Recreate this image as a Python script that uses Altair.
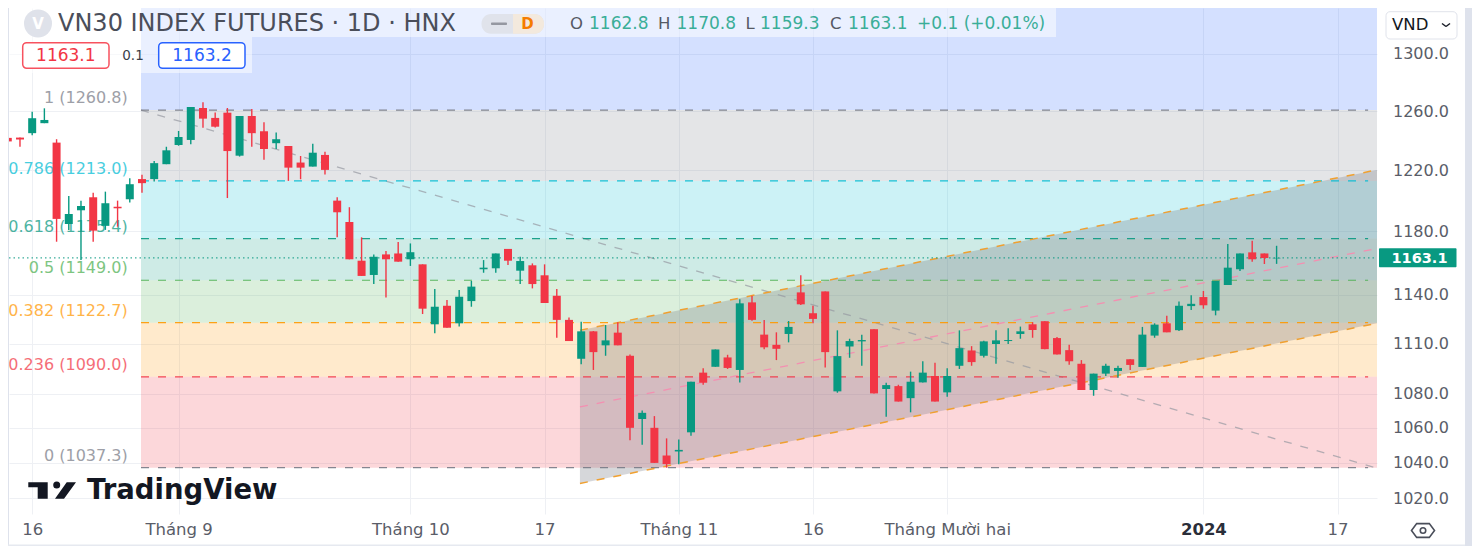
import json
import altair as alt
import pandas as pd

# ---- candle values (bar -1 ... 103) ----
open_ = [1241.8,1242,1245,1251.8,1238.6,1184.8,1193.7,1202.2,1183.6,1196,
 1200.9,1214.2,1214.2,1224.1,1237,1240.4,1262.2,1255.4,1259,1229.8,
 1256.7,1246.3,1238.2,1236.3,1225.2,1222.5,1230.3,1200,1186.1,1161.3,
 1152.3,1165.3,1165.9,1162.2,1159,1121.7,1133.1,1122.3,1136,1155.9,
 1156.5,1168.8,1155,1158.4,1152.1,1139.3,1124.4,1100.8,1117.4,1108.9,
 1116.6,1102.6,1065.2,1060.1,1044.2,1046.5,1057.5,1092.5,1096,1101.6,
 1094.1,1135.2,1115.4,1109.2,1115.8,1141.4,1128.5,1142,1081.4,1108.2,
 1111.3,1118.7,1082.8,1084.5,1077.4,1086.7,1090.5,1080.8,1096.6,1105.8,
 1102.6,1109.7,1111.5,1115.8,1121.7,1123.6,1113.3,1106,1097.8,1082.2,
 1091.9,1093.5,1100.5,1095.9,1114.8,1122.3,1118.1,1132.9,1138.5,1130.1,
 1146,1155.9,1166.6,1165.9,1162.8]
high = [1242.4,1242,1259.6,1262,1240.9,1203.1,1200,1205.2,1205.9,1200,
 1214.8,1217,1226.3,1235.8,1246.5,1262.9,1266.1,1259.2,1262.2,1256.7,
 1261.5,1252.4,1245.4,1236.3,1229.6,1237.9,1232.5,1202.2,1195.7,1176.2,
 1165.3,1167.4,1173.2,1172.3,1159,1143.5,1136.6,1142.9,1148.5,1161.7,
 1165.9,1168.8,1163.8,1159.6,1159,1143.5,1125.8,1123.3,1117.6,1121.3,
 1122.9,1103.4,1070.2,1066.9,1054,1053.4,1087.1,1095.1,1106.4,1103.2,
 1137.2,1139.3,1124.4,1116.8,1123.7,1152.1,1133.1,1142,1118,1112.9,
 1115.3,1118.7,1086.5,1085.3,1093.1,1099.3,1098.4,1095.1,1118,1108.4,
 1111.7,1118,1119.3,1120.3,1123,1123.6,1114,1109.2,1100,1091.9,
 1097.8,1096.6,1100.5,1120.1,1122.3,1127,1135.8,1139.6,1142.3,1148.5,
 1171.9,1165.9,1174,1165.9,1170.8]
low = [1238.4,1235.8,1243.6,1251.8,1173.4,1181,1161.7,1173.4,1181,1183.1,
 1198.7,1205.2,1212.6,1224.1,1236.5,1237.5,1248.6,1248.8,1201.7,1229.2,
 1235.8,1227,1234.3,1213,1214.1,1222.5,1217.2,1176.2,1162.2,1151.7,
 1146.6,1138.3,1160.7,1158,1128,1116.2,1119.6,1120.3,1132.5,1153.7,
 1153.7,1158.6,1146.6,1143.9,1134.8,1113.5,1111.5,1097.5,1094.1,1102.6,
 1108.9,1053,1050.3,1040,1037.3,1039.3,1055.5,1085.3,1096,1094.7,
 1086.7,1123.9,1106.6,1100,1110.7,1133.5,1122.3,1095.5,1080.6,1101.4,
 1096.6,1080.2,1066.5,1075.4,1069.1,1086.7,1075.4,1078.2,1094.7,1096.6,
 1101.6,1097.8,1109.7,1112.9,1113.5,1106.6,1103.4,1097.2,1082.2,1078.8,
 1090.5,1089.5,1094.1,1095.9,1113.5,1116.8,1117.6,1130.5,1131.3,1127.2,
 1146,1154.8,1160.7,1159.2,1159.3]
close = [1239.4,1240.7,1255.2,1254,1188.1,1191.3,1196.5,1180.5,1198.3,1195,
 1210.8,1211.5,1224.8,1233.4,1242.4,1262.9,1254.9,1249.4,1232.9,1256.7,
 1245,1234.3,1240.9,1221.8,1221.8,1231.8,1220.3,1192.4,1162.2,1151.7,
 1163.8,1162.2,1160.7,1166.7,1131.3,1132.5,1119.6,1138.7,1145,1156.9,
 1165.9,1161.3,1161.1,1146.6,1134.8,1124.4,1111.5,1117.4,1104.8,1111.9,
 1108.9,1060.1,1068.8,1040,1039.3,1047.4,1087.1,1086.5,1106.4,1095.3,
 1134.6,1124.4,1107.7,1106.8,1120.1,1134,1125,1104.8,1102.4,1111.5,
 1112.1,1080.2,1085.1,1075.4,1087.1,1092.5,1075.4,1090.5,1107.2,1098.8,
 1111.3,1111.9,1112.1,1117.4,1118.2,1106.6,1103.4,1099.3,1082.2,1091.9,
 1096.6,1095.3,1097.1,1115.4,1121.5,1116.8,1133.1,1134.3,1133.4,1148.5,
 1156.9,1165.9,1162.2,1163,1163.1]
bars = list(range(-1, len(open_) - 1))

# ---- axes ----
y_ticks = [1300, 1260, 1220, 1180, 1140, 1110, 1080, 1060, 1040, 1020]
x_tick_bars = [1, 13, 32, 43, 54, 65, 76, 97, 108]
x_tick_text = ["16", "Tháng 9", "Tháng 10", "17", "Tháng 11", "16", "Tháng Mười hai", "2024", "17"]

# ---- Fibonacci retracement ----
fib_ratio = ["1", "0.786", "0.618", "0.5", "0.382", "0.236", "0"]
fib_price = [1260.8, 1213.0, 1175.4, 1149.0, 1122.7, 1090.0, 1037.3]
fib_color = ["#787B86", "#00BCD4", "#089981", "#4CAF50", "#FF9800", "#F23645", "#787B86"]
fib_start, fib_end, fib_line_end = 9.92, 111.3, 110.5
y_top, y_bottom = 1333.0, 1011.4
x_left, x_right = -0.9, 111.23

# ---- channel and diagonal ----
chan_bars = [45.9, 111.23]
chan_up = [1118.1, 1220.3]
chan_mid = [1072.3, 1169.1]
chan_low = [1028.4, 1122.3]
diag_bars = [9.92, 111.07]
diag_price = [1260.8, 1037.3]
last_price = 1163.1

FONT = "DejaVu Sans"
GREEN, RED = "#089981", "#F23645"
TXT = "#5A5D68"
GRID = "#EEF0F4"

xs = alt.Scale(domain=[x_left, x_right], nice=False, zero=False)
ys = alt.Scale(type="log", domain=[y_bottom, y_top], nice=False, zero=False)
X = lambda f: alt.X(f, type="quantitative", scale=xs, title=None)
Y = lambda f: alt.Y(f, type="quantitative", scale=ys, title=None)

candles = pd.DataFrame({"bar": bars, "o": open_, "h": high, "l": low, "c": close})
candle_color = alt.condition("datum.c >= datum.o", alt.value(GREEN), alt.value(RED))

# bands, first layer, carries the axes
band_col = ["#2962FF", "#787B86", "#00BCD4", "#089981", "#4CAF50", "#FF9800", "#F23645"]
bands_df = pd.DataFrame({"a": fib_start, "b": fib_end, "lo": fib_price, "hi": [y_top] + fib_price[:-1], "col": band_col})
label_map = json.dumps({str(k): v for k, v in zip(x_tick_bars, x_tick_text)}, ensure_ascii=False)
x_axis = alt.Axis(
    values=x_tick_bars, labelExpr=f"{label_map}[datum.value]", orient="bottom", grid=True,
    gridColor=GRID, gridWidth=1, domain=False, ticks=False, labelOverlap=False, labelFlush=False,
    labelBound=False, labelFont=FONT, labelFontSize=16.5, labelPadding=7, title=None,
    labelColor={"condition": {"test": "datum.value == 97", "value": "#2A2E39"}, "value": TXT},
    labelFontWeight={"condition": {"test": "datum.value == 97", "value": "bold"}, "value": "normal"},
)
y_axis = alt.Axis(
    values=y_ticks, orient="right", format=".1f", grid=True, gridColor=GRID, gridWidth=1,
    domain=False, ticks=False, labelFont=FONT, labelFontSize=16, labelColor=TXT, labelPadding=15.5,
    labelOverlap=False, labelFlush=False, labelBound=False, title=None,
)
bands = alt.Chart(bands_df).mark_rect(opacity=0.2, clip=True).encode(
    x=alt.X("a:Q", scale=xs, axis=x_axis, title=None), x2="b:Q",
    y=alt.Y("lo:Q", scale=ys, axis=y_axis, title=None), y2="hi:Q",
    color=alt.Color("col:N", scale=None),
)

DASH = [8, 9]
chan_df = pd.DataFrame({"bar": chan_bars, "up": chan_up, "mid": chan_mid, "low": chan_low})
chan_fill = alt.Chart(chan_df).mark_area(color="#787B86", opacity=0.3, clip=True).encode(
    x=X("bar"), y=Y("up"), y2="low")
chan_up_line = alt.Chart(chan_df).mark_line(color="#F0A030", strokeWidth=1.5, strokeDash=DASH, clip=True).encode(x=X("bar"), y=Y("up"))
chan_low_line = alt.Chart(chan_df).mark_line(color="#F0A030", strokeWidth=1.5, strokeDash=DASH, clip=True).encode(x=X("bar"), y=Y("low"))
chan_mid_line = alt.Chart(chan_df).mark_line(color="#F48FB1", strokeWidth=1.3, strokeDash=DASH, clip=True).encode(x=X("bar"), y=Y("mid"))

diag_df = pd.DataFrame({"bar": diag_bars, "p": diag_price})
diag = alt.Chart(diag_df).mark_line(color="#9598A1", opacity=0.7, strokeWidth=1.3, strokeDash=DASH).encode(x=X("bar"), y=Y("p"))

fib_df = pd.DataFrame({
    "a": fib_start, "b": fib_line_end, "p": fib_price, "col": fib_color,
    "txt": [f"{r} ({p:.1f})" for r, p in zip(fib_ratio, fib_price)],
})
fib_lines = alt.Chart(fib_df).mark_rule(strokeWidth=1.2, strokeDash=DASH, opacity=0.9).encode(
    x=X("a"), x2="b:Q", y=Y("p"), color=alt.Color("col:N", scale=None))
fib_text = alt.Chart(fib_df).mark_text(
    align="right", baseline="middle", dx=-13.3, dy=-12, font=FONT, fontSize=16, opacity=0.72, clip=True
).encode(x=X("a"), y=Y("p"), text="txt:N", color=alt.Color("col:N", scale=None))

dotted = alt.Chart(pd.DataFrame({"p": [last_price], "a": [x_left], "b": [x_right]})).mark_rule(
    color=GREEN, strokeWidth=1.2, strokeDash=[1.5, 3], opacity=0.8
).encode(x=X("a"), x2="b:Q", y=Y("p"))

wicks = alt.Chart(candles).mark_rule(strokeWidth=1.4, clip=True).encode(x=X("bar"), y=Y("h"), y2="l:Q", color=candle_color)
bodies = alt.Chart(candles).mark_rule(strokeWidth=8, clip=True).encode(x=X("bar"), y=Y("o"), y2="c:Q", color=candle_color)

# ---- TradingView interface furniture, placed in picture pixels ----
one = pd.DataFrame({"a": [0]})
OX, OY = 9, 8


def box(x1, y1, x2, y2, **kw):
    return alt.Chart(one).mark_rect(**kw).encode(
        x=alt.value(x1 - OX), x2=alt.value(x2 - OX), y=alt.value(y1 - OY), y2=alt.value(y2 - OY))


def label(x, y, s, size=15, color=TXT, align="left", weight="normal"):
    return alt.Chart(one).mark_text(
        text=s, align=align, baseline="middle", font=FONT, fontSize=size, color=color, fontWeight=weight
    ).encode(x=alt.value(x - OX), y=alt.value(y - OY))


def seg(x1, y1, x2, y2, color="#131722", w=1.4):
    return alt.Chart(one).mark_rule(color=color, strokeWidth=w).encode(
        x=alt.value(x1 - OX), x2=alt.value(x2 - OX), y=alt.value(y1 - OY), y2=alt.value(y2 - OY))


def symbol(x, y, path, size, **kw):
    return alt.Chart(one).mark_point(shape=path, size=size, **kw).encode(x=alt.value(x - OX), y=alt.value(y - OY))


TEAL_TXT = "#3AAE98"
furniture = [
    box(9, 8, 1056, 37, color="white", opacity=0.5),
    box(9, 37, 252, 73, color="white", opacity=0.5),
    symbol(38, 23.5, "circle", 784, filled=True, color="#DFE2EA", opacity=1),
    label(38, 24, "V", 15, "white", "center", "bold"),
    label(58, 23.5, "VN30 INDEX FUTURES · 1D · HNX", 24, "#4A4E5A"),
    box(481.5, 14, 544, 33.7, color="#E0E3EB", cornerRadius=9.5),
    box(513, 14, 544, 33.7, color="#F3E9DD", cornerRadiusTopRight=9.5, cornerRadiusBottomRight=9.5),
    box(491, 22.5, 507, 25, color="#9598A1", cornerRadius=1),
    label(527.5, 24, "D", 15, "#F57C00", "center", "bold"),
    label(570, 24, "O", 16.5, "#555964"),
    label(589, 24, "1162.8", 17, TEAL_TXT),
    label(658, 24, "H", 16.5, "#555964"),
    label(676.5, 24, "1170.8", 17, TEAL_TXT),
    label(745.5, 24, "L", 16.5, "#555964"),
    label(760, 24, "1159.3", 17, TEAL_TXT),
    label(830, 24, "C", 16.5, "#555964"),
    label(848, 24, "1163.1", 17, TEAL_TXT),
    label(917, 24, "+0.1 (+0.01%)", 17, TEAL_TXT),
    box(22.7, 42.7, 109, 68.3, fill="white", stroke="#F7525F", strokeWidth=1.5, cornerRadius=4),
    label(65.8, 55.5, "1163.1", 17, "#F23645", "center"),
    label(133, 55.5, "0.1", 13.5, "#3A3E4A", "center"),
    box(158.7, 42.7, 245, 68.3, fill="white", stroke="#2962FF", strokeWidth=1.5, cornerRadius=4),
    label(202, 55.5, "1163.2", 17, "#2962FF", "center"),
    # TradingView mark
    symbol(52, 490.5,
           "M-0.988,-0.342L-0.179,-0.342L-0.179,0.342L-0.596,0.342L-0.596,-0.133L-0.988,-0.133Z"
           "M0.613,-0.342L1,-0.342L0.5,0.342L0.125,0.342Z", 2304, filled=True, color="#131722", opacity=1),
    symbol(56.7, 485, "circle", 49, filled=True, color="#131722", opacity=1),
    label(87, 491, "TradingView", 27.5, "#131722", "left", "bold"),
    # right scale furniture
    box(1386, 11.7, 1457, 39, fill="white", stroke="#E0E3EB", strokeWidth=1, cornerRadius=4),
    label(1392, 25, "VND", 16.5, "#131722"),
    seg(1442, 23.5, 1446, 26.5),
    seg(1446, 26.5, 1450, 23.5),
    box(1379, 248.3, 1456.5, 267.3, color=GREEN, cornerRadius=1),
    label(1419.5, 258.5, "1163.1", 14.5, "white", "center", "bold"),
    symbol(1423, 530.5, "M-1,0L-0.55,-0.6L0.55,-0.6L1,0L0.55,0.6L-0.55,0.6Z", 529, filled=False, color="#4A4E5A", strokeWidth=1.6, opacity=1),
    symbol(1423, 530.5, "circle", 30, filled=False, color="#4A4E5A", strokeWidth=1.6, opacity=1),
    # page frame
    box(8, 8, 9, 546, color="#DEE2EC"),
    box(1465, 8, 1472, 546, color="#DEE2EC"),
    box(8, 544.5, 1465, 546, color="#E6E9F0"),
]

chart = alt.layer(
    bands, chan_fill, chan_mid_line, diag, fib_lines, fib_text, chan_up_line, chan_low_line, dotted,
    wicks, bodies, *furniture,
).properties(
    width=1368, height=506,
    autosize=alt.AutoSizeParams(type="none"),
    padding={"left": 1, "top": 0, "right": 98, "bottom": 32},
    background="white",
).configure_view(stroke=None).configure_axis(gridColor=GRID, gridWidth=1, gridOpacity=1)

chart.save("out.html", embed_options={"renderer": "svg", "actions": False})
